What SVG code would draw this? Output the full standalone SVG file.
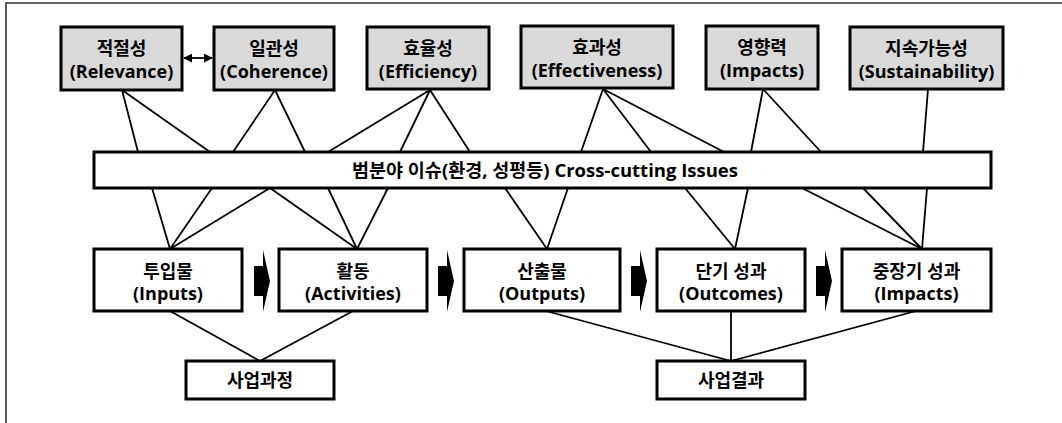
<svg xmlns="http://www.w3.org/2000/svg" width="1062" height="423" viewBox="0 0 1062 423">
<defs>
<style>
.frame{fill:none;stroke:#333;stroke-width:1.6}
.top{fill:#d9d9d9;stroke:#000;stroke-width:3}
.box{fill:#fff;stroke:#000;stroke-width:3}
.ln{stroke:#000;stroke-width:1.8;fill:none}
.blk{fill:#000}
text{font-family:"Open Sans","Noto Sans CJK KR",sans-serif;font-weight:bold;font-size:18px;fill:#000;text-anchor:middle}
.band{font-size:18.5px}
</style>
<marker id="ah" viewBox="0 0 10 10" refX="9" refY="5" markerWidth="5" markerHeight="5" orient="auto-start-reverse">
<path d="M0,0 L10,5 L0,10 z" fill="#000"/>
</marker>
</defs>
<rect width="1062" height="423" fill="#fff"/>
<path class="frame" d="M6,423 V3 H1062"/>

<g id="connectors">
<path class="ln" d="M122,90 L138,152 M122,90 L210,152"/>
<path class="ln" d="M275,90 L233,152 M275,90 L305,152"/>
<path class="ln" d="M430,90 L328,152 M430,90 L400,152 M430,90 L470,152"/>
<path class="ln" d="M603,89 L581,152 M603,89 L651,152 M603,89 L724,152"/>
<path class="ln" d="M763,89 L751,152 M763,89 L821,152"/>
<path class="ln" d="M928,89 L923,152"/>
<path class="ln" d="M152,188 L170,249 M212,188 L170,249 M270,188 L170,249"/>
<path class="ln" d="M270,188 L357,249 M328,188 L357,249 M388,188 L357,249"/>
<path class="ln" d="M505,188 L547,249 M568,188 L547,249"/>
<path class="ln" d="M685,188 L735,249 M748,188 L735,249"/>
<path class="ln" d="M802,188 L922,249 M863,188 L922,249 M927,188 L922,249"/>
<path class="ln" d="M170,311 L260,361 M353,311 L260,361"/>
<path class="ln" d="M546,311 L731,361 M731,311 L731,361 M916,311 L731,361"/>
<line class="ln" x1="184" y1="58" x2="212" y2="58" marker-start="url(#ah)" marker-end="url(#ah)"/>
<path class="blk" d="M254,266 H263 V250 L270,281 L263,312 V296 H254 Z"/>
<path class="blk" d="M438,266 H447 V250 L454,281 L447,312 V296 H438 Z"/>
<path class="blk" d="M631,266 H640 V250 L647,281 L640,312 V296 H631 Z"/>
<path class="blk" d="M816,266 H825 V250 L832,281 L825,312 V296 H816 Z"/>
</g>

<g id="relevance"><rect class="top" x="61" y="27" width="121" height="63"/><text x="121.5" y="55">적절성</text><text x="121.5" y="78">(Relevance)</text></g>
<g id="coherence"><rect class="top" x="214" y="27" width="120" height="63"/><text x="274" y="55">일관성</text><text x="274" y="78">(Coherence)</text></g>
<g id="efficiency"><rect class="top" x="367" y="27" width="122" height="62"/><text x="428" y="55">효율성</text><text x="428" y="78">(Efficiency)</text></g>
<g id="effectiveness"><rect class="top" x="521" y="26" width="152" height="62"/><text x="597" y="54">효과성</text><text x="597" y="77">(Effectiveness)</text></g>
<g id="impacts-top"><rect class="top" x="706" y="26" width="112" height="63"/><text x="762" y="54">영향력</text><text x="762" y="77">(Impacts)</text></g>
<g id="sustainability"><rect class="top" x="850" y="27" width="153" height="62"/><text x="926.5" y="55">지속가능성</text><text x="926.5" y="78">(Sustainability)</text></g>

<g id="crosscutting"><rect class="box" x="94" y="152" width="897" height="36"/><text class="band" x="545" y="177">범분야 이슈(환경, 성평등) Cross-cutting Issues</text></g>

<g id="inputs"><rect class="box" x="94" y="249" width="148" height="62"/><text x="168" y="278">투입물</text><text x="168" y="300">(Inputs)</text></g>
<g id="activities"><rect class="box" x="279" y="249" width="148" height="62"/><text x="353" y="278">활동</text><text x="353" y="300">(Activities)</text></g>
<g id="outputs"><rect class="box" x="464" y="249" width="156" height="62"/><text x="542" y="278">산출물</text><text x="542" y="300">(Outputs)</text></g>
<g id="outcomes"><rect class="box" x="657" y="249" width="148" height="62"/><text x="731" y="278">단기 성과</text><text x="731" y="300">(Outcomes)</text></g>
<g id="impacts"><rect class="box" x="842" y="249" width="149" height="62"/><text x="916.5" y="278">중장기 성과</text><text x="916.5" y="300">(Impacts)</text></g>

<g id="process"><rect class="box" x="186" y="361" width="148" height="38"/><text x="260" y="387">사업과정</text></g>
<g id="results"><rect class="box" x="657" y="361" width="148" height="38"/><text x="731" y="387">사업결과</text></g>
</svg>
